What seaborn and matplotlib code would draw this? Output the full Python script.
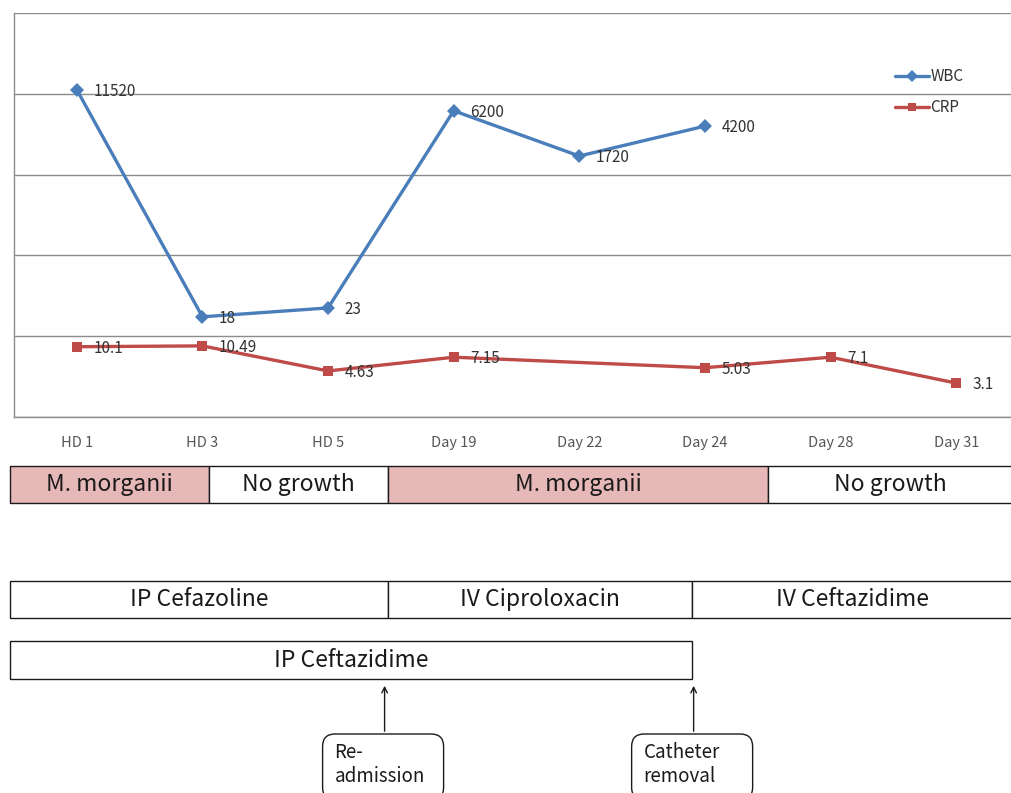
import pandas as pd
import seaborn as sns
import matplotlib.pyplot as plt
from matplotlib.patches import Rectangle, FancyBboxPatch

days = ["HD 1", "HD 3", "HD 5", "Day 19", "Day 22", "Day 24", "Day 28", "Day 31"]

# height of each point in gridline units (chart shows no y scale)
wbc_level = [4.05, 1.24, 1.35, 3.79, 3.23, 3.60, None, None]
wbc_text = ["11520", "18", "23", "6200", "1720", "4200", "", ""]
crp_level = [0.87, 0.88, 0.57, 0.74, None, 0.61, 0.74, 0.42]
crp_text = ["10.1", "10.49", "4.63", "7.15", "", "5.03", "7.1", "3.1"]

# timeline rows, start / end in category units
culture_labels = ["M. morganii", "No growth", "M. morganii", "No growth"]
culture_start = [-0.53, 1.05, 2.48, 5.50]
culture_end = [1.05, 2.48, 5.50, 7.70]
culture_positive = [True, False, True, False]

drug1_labels = ["IP Cefazoline", "IV Ciproloxacin", "IV Ceftazidime"]
drug1_start = [-0.53, 2.48, 4.90]
drug1_end = [2.48, 4.90, 7.70]

drug2_labels = ["IP Ceftazidime"]
drug2_start = [-0.53]
drug2_end = [4.90]

event_labels = ["Re-\nadmission", "Catheter\nremoval"]
event_pos = [2.45, 4.91]

blue = "#4a7ebb"
red = "#be4b48"
grid = "#8c8c8c"

sns.set_style("white")
plt.rcParams["font.family"] = ["Noto Sans CJK KR", "DejaVu Sans"]

rows = []
for i, d in enumerate(days):
    if wbc_level[i] is not None:
        rows.append({"pos": i, "level": wbc_level[i], "series": "WBC"})
    if crp_level[i] is not None:
        rows.append({"pos": i, "level": crp_level[i], "series": "CRP"})
df = pd.DataFrame(rows)

fig = plt.figure(figsize=(10.11, 7.93), dpi=100)
ax = fig.add_axes([14 / 1011, 376 / 793, 1005 / 1011, 404 / 793])

sns.lineplot(
    data=df, x="pos", y="level",
    hue="series", style="series",
    hue_order=["WBC", "CRP"], style_order=["WBC", "CRP"],
    palette={"WBC": blue, "CRP": red},
    markers={"WBC": "D", "CRP": "s"},
    dashes=False, linewidth=2.4,
    markersize=7, markeredgewidth=0,
    ax=ax
)

for i in range(len(days)):
    if wbc_level[i] is not None:
        ax.annotate(wbc_text[i], (i, wbc_level[i]), xytext=(12, -1),
                    textcoords="offset points", ha="left", va="center",
                    fontsize=11, color="#333333")
    if crp_level[i] is not None:
        ax.annotate(crp_text[i], (i, crp_level[i]), xytext=(12, -1),
                    textcoords="offset points", ha="left", va="center",
                    fontsize=11, color="#333333")

ax.set_xlim(-0.5, 7.5)
ax.set_ylim(0, 5)
ax.set_yticks([0, 1, 2, 3, 4, 5])
ax.set_yticklabels([])
ax.tick_params(axis="y", length=0)
ax.yaxis.grid(True, color=grid, linewidth=1)
ax.set_axisbelow(True)

ax.set_xticks(range(len(days)))
ax.set_xticklabels(days, fontsize=10.5, color="#555555")
ax.tick_params(axis="x", which="major", length=0, pad=14)
ax.set_xticks([i - 0.5 for i in range(len(days) + 1)], minor=True)
ax.tick_params(axis="x", which="minor", length=5, width=1, color=grid, direction="out")
ax.set_xlabel("")
ax.set_ylabel("")
for s in ["top", "right"]:
    ax.spines[s].set_visible(False)
for s in ["left", "bottom"]:
    ax.spines[s].set_color(grid)
    ax.spines[s].set_linewidth(1)

leg = ax.legend(loc="upper left", bbox_to_anchor=(875 / 1005, 1 - 49 / 404),
                frameon=False, fontsize=11, handlelength=2.2,
                handletextpad=0.1, labelspacing=0.9, borderaxespad=0)
for t in leg.get_texts():
    t.set_color("#333333")
for h in leg.legend_handles:
    h.set_markersize(6)

# timeline panel below the chart, y in pixels from the top of the figure
tl = fig.add_axes([14 / 1011, 0, 1005 / 1011, 376 / 793])
tl.set_xlim(-0.5, 7.5)
tl.set_ylim(793, 417)
tl.axis("off")
px_per_day = 1005 / 8


def draw_row(labels, starts, ends, top, bottom, fills=None, size=16.5):
    for k, lab in enumerate(labels):
        fc = "#e6b8b7" if (fills is not None and fills[k]) else "white"
        tl.add_patch(Rectangle((starts[k], top), ends[k] - starts[k], bottom - top,
                               facecolor=fc, edgecolor="#1a1a1a", linewidth=1,
                               clip_on=False))
        mid = (starts[k] + min(ends[k], 7.45)) / 2
        tl.text(mid, (top + bottom) / 2, lab, ha="center", va="center",
                fontsize=size, color="#1a1a1a")


draw_row(culture_labels, culture_start, culture_end, 466, 503, culture_positive)
draw_row(drug1_labels, drug1_start, drug1_end, 581, 618)
draw_row(drug2_labels, drug2_start, drug2_end, 641, 679)

for k, lab in enumerate(event_labels):
    x0 = event_pos[k] - 62 / px_per_day
    tl.add_patch(FancyBboxPatch((x0, 734), 121 / px_per_day, 66,
                                boxstyle="round,pad=0,rounding_size=0.1",
                                mutation_aspect=px_per_day,
                                facecolor="white", edgecolor="#1a1a1a",
                                linewidth=1, clip_on=False))
    tl.text(x0 + 12 / px_per_day, 742, lab, ha="left", va="top", fontsize=13.5,
            color="#1a1a1a", linespacing=1.2)
    tl.annotate("", xy=(event_pos[k], 683), xytext=(event_pos[k], 734),
                arrowprops=dict(arrowstyle="->", color="#1a1a1a", lw=1))

fig.savefig("out.png", dpi=100)
